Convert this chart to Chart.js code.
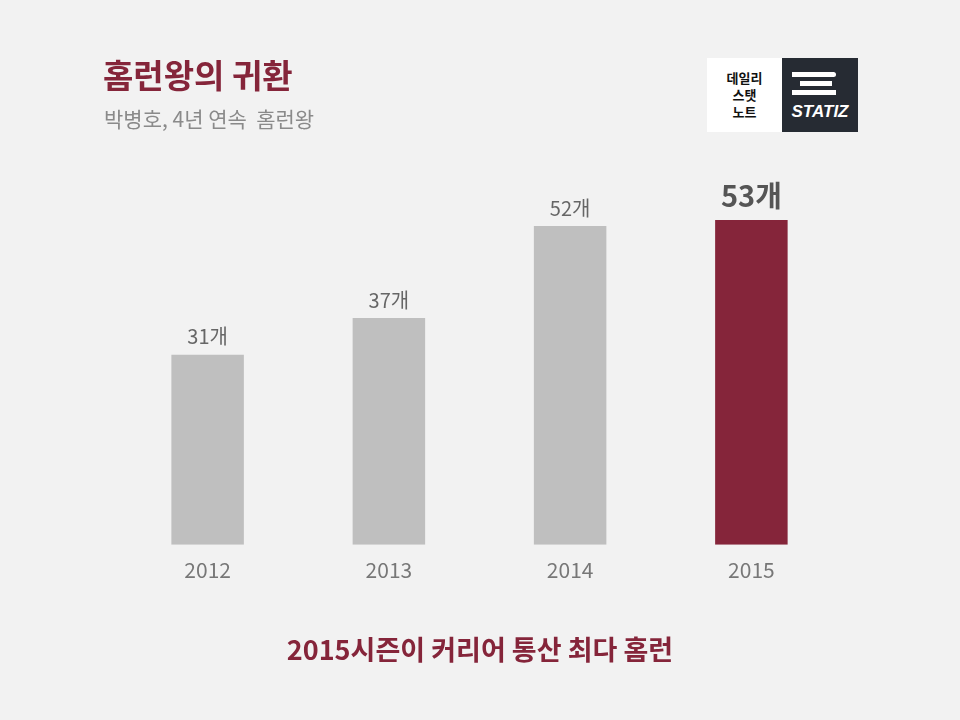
<!DOCTYPE html>
<html><head><meta charset="utf-8">
<script src="https://cdn.jsdelivr.net/npm/chart.js@4"></script>
<style>
body{margin:0;background:#f2f2f2;font-family:"Noto Sans CJK KR","Noto Sans",sans-serif;}
#wrap{position:relative;width:960px;height:720px;}
canvas{position:absolute;left:0;top:0;}
.t{position:absolute;white-space:nowrap;}
</style></head><body>
<div id="wrap">
<canvas id="c" width="960" height="720"></canvas>
<div class="t" style="left:103px;top:50px;font-size:33px;font-weight:bold;color:#85253a;">홈런왕의 귀환</div>
<div class="t" style="left:104px;top:103px;font-size:21px;color:#8a8a8a;">박병호, 4년 연속&nbsp; 홈런왕</div>
<div class="t" style="left:0;width:960px;text-align:center;top:629px;font-size:27px;font-weight:bold;color:#85253a;">2015시즌이 커리어 통산 최다 홈런</div>
<div class="t" style="left:707px;top:58px;width:75px;height:74px;background:#fff;text-align:center;font-size:13px;font-weight:bold;line-height:17px;padding-top:11px;box-sizing:border-box;color:#111;">데일리<br>스탯<br>노트</div>
<div class="t" style="left:782px;top:58px;width:76px;height:74px;background:#262b33;">
 <div style="position:absolute;left:10px;top:14px;width:44px;height:5px;background:#fff;border-radius:0 3px 3px 0;"></div>
 <div style="position:absolute;left:18px;top:23px;width:32px;height:5px;background:#fff;"></div>
 <div style="position:absolute;left:10px;top:32px;width:44px;height:5px;background:#fff;"></div>
 <div style="position:absolute;left:0;width:76px;text-align:center;top:44px;font-size:17px;font-weight:bold;font-style:italic;color:#fff;font-family:'Liberation Sans',sans-serif;">STATIZ</div>
</div>
</div>
<script>
const years=["2012","2013","2014","2015"];
const homeRuns=[31,37,52,53];
const labels=["31개","37개","52개","53개"];
const colors=["#bfbfbf","#bfbfbf","#bfbfbf","#85253a"];
const labelPlugin={id:"lbl",afterDatasetsDraw(ch){const ctx=ch.ctx;const m=ch.getDatasetMeta(0);
 m.data.forEach((b,i)=>{const last=i===3;ctx.save();ctx.textAlign="center";ctx.textBaseline="bottom";
 ctx.fillStyle=last?"#555":"#666";ctx.font=(last?"bold 29px":"20px")+' "Noto Sans CJK KR"';
 ctx.fillText(labels[i],b.x,b.y-(last?9:8));ctx.restore();});}};
new Chart(document.getElementById("c"),{type:"bar",
data:{labels:years,datasets:[{data:homeRuns,backgroundColor:colors,barPercentage:0.4,categoryPercentage:1}]},
options:{responsive:false,animation:false,events:[],
layout:{padding:{left:117,right:118,top:177,bottom:132}},
plugins:{legend:{display:false},tooltip:{enabled:false}},
scales:{y:{display:false,min:0,max:60},
x:{grid:{display:false},border:{display:false},ticks:{color:"#777",font:{size:21,family:"Noto Sans CJK KR"},padding:5}}}},
plugins:[labelPlugin]});
</script></body></html>
